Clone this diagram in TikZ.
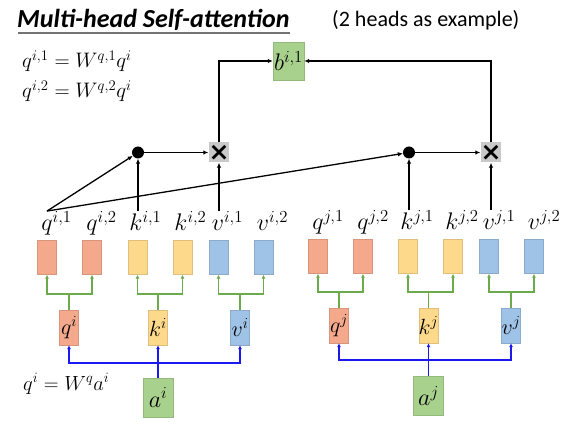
\RequirePackage{fix-cm}
\documentclass[tikz,border=0pt]{standalone}
\usepackage{fontspec}
\newfontfamily\calibri{Carlito}
\newfontfamily\djv{DejaVu Sans}
\usetikzlibrary{arrows.meta,calc}
\definecolor{cq}{HTML}{F4A98C}
\definecolor{ck}{HTML}{FDD98C}
\definecolor{cv}{HTML}{9FC2E7}
\definecolor{cg}{HTML}{A9D18E}
\definecolor{cx}{HTML}{C9C9C9}
\definecolor{gcol}{HTML}{6DAA4C}
\definecolor{bcol}{HTML}{1A1AF0}
\begin{document}
\begin{tikzpicture}[x=1pt,y=-1pt,
  vec/.style={draw=#1!88!black, line width=0.4pt, fill=#1, minimum width=19pt, minimum height=34pt, inner sep=0pt},
  mid/.style={draw=#1!88!black, line width=0.4pt, fill=#1, minimum width=19pt, minimum height=35pt, inner sep=0pt, font=\fontsize{22}{22}\selectfont},
  inp/.style={draw=cg!88!black, line width=0.4pt, fill=cg, minimum width=30pt, minimum height=39pt, inner sep=0pt, font=\fontsize{24}{24}\selectfont},
  lab/.style={font=\fontsize{24}{24}\selectfont, inner sep=0pt, anchor=base},
  dotn/.style={circle, fill=black, minimum size=12pt, inner sep=0pt},
  mulbox/.style={fill=cx, minimum width=20pt, minimum height=20pt, inner sep=0pt, font=\djv\bfseries\fontsize{25}{25}\selectfont},
  arr/.style={-{Latex[length=5pt,width=4.5pt]}, line width=1.3pt},
  garr/.style={draw=gcol, line width=1.6pt, -{Latex[length=4pt,width=4pt]}},
  barr/.style={draw=bcol, line width=1.8pt, -{Latex[length=4pt,width=4pt]}},
  bl/.style={draw=bcol, line width=1.8pt},
  gl/.style={draw=gcol, line width=1.6pt}
]
\useasboundingbox (0,0) rectangle (570,430);

% title
\node[anchor=base west, inner sep=0pt] (title) at (17,28) {\calibri\bfseries\itshape\fontsize{26}{26}\selectfont Multi-head Self-attention};
\draw[line width=1.6pt, black!55] ($(title.base west)+(1,5)$) -- ($(title.base east)+(0,5)$);
\node[anchor=base west, inner sep=0pt] (note) at (332,27) {\calibri\fontsize{22}{22}\selectfont (2 heads as example)};

% equations
\node[anchor=base west, inner sep=0pt, font=\fontsize{21}{21}\selectfont] (eq1) at (22,68) {$q^{i,1}=W^{q,1}q^i$};
\node[anchor=base west, inner sep=0pt, font=\fontsize{21}{21}\selectfont] (eq2) at (22,98) {$q^{i,2}=W^{q,2}q^i$};
\node[anchor=base west, inner sep=0pt, font=\fontsize{20.5}{20.5}\selectfont] (eq3) at (23,390) {$q^i=W^qa^i$};

% output
\node[inp, minimum width=31pt, minimum height=38pt] (b) at (288.5,61) {$b\rlap{$^{i,1}$}\phantom{^{i,1}}$};

% left head vectors
\node[vec=cq] (qi1) at (47,257.5) {};
\node[vec=cq] (qi2) at (92,257.5) {};
\node[vec=ck] (ki1) at (137.5,257.5) {};
\node[vec=ck] (ki2) at (182.5,257.5) {};
\node[vec=cv] (vi1) at (218.5,257.5) {};
\node[vec=cv] (vi2) at (263.5,257.5) {};
% right head vectors
\node[vec=cq] (qj1) at (318,256.5) {};
\node[vec=cq] (qj2) at (363,256.5) {};
\node[vec=ck] (kj1) at (408,256.5) {};
\node[vec=ck] (kj2) at (453,256.5) {};
\node[vec=cv] (vj1) at (489,256.5) {};
\node[vec=cv] (vj2) at (534,256.5) {};

% labels
\node[lab] (lqi1) at (47,231) {$q\rlap{$^{i,1}$}$};
\node[lab] (lqi2) at (92,231) {$q\rlap{$^{i,2}$}$};
\node[lab] (lki1) at (136,231) {$k\rlap{$^{i,1}$}$};
\node[lab] (lki2) at (181,231) {$k\rlap{$^{i,2}$}$};
\node[lab] (lvi1) at (218,231) {$v\rlap{$^{i,1}$}$};
\node[lab] (lvi2) at (263,231) {$v\rlap{$^{i,2}$}$};
\node[lab] (lqj1) at (318,230) {$q\rlap{$^{j,1}$}$};
\node[lab] (lqj2) at (363,230) {$q\rlap{$^{j,2}$}$};
\node[lab] (lkj1) at (407,230) {$k\rlap{$^{j,1}$}$};
\node[lab] (lkj2) at (452,230) {$k\rlap{$^{j,2}$}$};
\node[lab] (lvj1) at (489,230) {$v\rlap{$^{j,1}$}$};
\node[lab] (lvj2) at (534,230) {$v\rlap{$^{j,2}$}$};

% middle vectors
\node[mid=cq] (qi) at (69,327.5) {$q\rlap{$^i$}\phantom{^i}$};
\node[mid=ck] (ki) at (158,327.5) {$k\rlap{$^i$}\phantom{^i}$};
\node[mid=cv] (vi) at (240,327.5) {$v\rlap{$^i$}\phantom{^i}$};
\node[mid=cq] (qj) at (339,325.5) {$q\rlap{$^j$}\phantom{^j}$};
\node[mid=ck] (kj) at (428.5,325.5) {$k\rlap{$^j$}\phantom{^j}$};
\node[mid=cv] (vj) at (511,325.5) {$v\rlap{$^j$}\phantom{^j}$};

% inputs
\node[inp] (ai) at (158,397.5) {$a\rlap{$^i$}\phantom{^i}$};
\node[inp] (aj) at (428.5,396) {$a\rlap{$^j$}\phantom{^j}$};

% attention ops
\node[dotn] (dl) at (138,152.5) {};
\node[dotn] (dr) at (409,152.5) {};
\node[mulbox] (xl) at (219,152.5) {×};
\node[mulbox] (xr) at (491,152.5) {×};

% green split connectors
\coordinate (gqi) at (69,294);
\coordinate (gki) at (158,294);
\coordinate (gvi) at (240,294);
\coordinate (gqj) at (339,292);
\coordinate (gkj) at (428.5,292);
\coordinate (gvj) at (511,292);
\foreach \m/\a/\b/\g in {qi/qi1/qi2/gqi, ki/ki1/ki2/gki, vi/vi1/vi2/gvi, qj/qj1/qj2/gqj, kj/kj1/kj2/gkj, vj/vj1/vj2/gvj}{
  \draw[gl] (\m.north) -- (\g);
  \draw[garr] (\g) -| (\a.south);
  \draw[garr] (\g) -| (\b.south);
}

% blue input connectors
\coordinate (bi) at (158,363);
\coordinate (bj) at (428.5,360);
\draw[bl] (ai.north) -- (bi);
\draw[barr] (bi) -- (ki.south);
\draw[barr] (bi) -| (qi.south);
\draw[barr] (bi) -| (vi.south);
\draw[bl] (aj.north) -- (bj);
\draw[barr] (bj) -- (kj.south);
\draw[barr] (bj) -| (qj.south);
\draw[barr] (bj) -| (vj.south);

% attention connectors
\draw[arr] (lqi1.north) -- (dl);
\draw[arr] (lqi1.north) -- (dr);
\draw[arr] (dl |- lki1.north) -- (dl);
\draw[arr] (xl |- lvi1.north) -- (xl);
\draw[arr] (dl) -- (xl);
\draw[arr] (dr |- lkj1.north) -- (dr);
\draw[arr] (xr |- lvj1.north) -- (xr);
\draw[arr] (dr) -- (xr);
\draw[arr] (xl.north) |- (b.west);
\draw[arr] (xr.north) |- (b.east);
\end{tikzpicture}
\end{document}
